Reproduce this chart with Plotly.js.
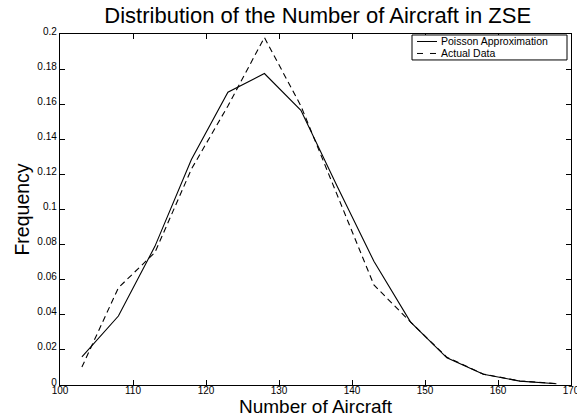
<!DOCTYPE html>
<html>
<head>
<meta charset="utf-8">
<script src="https://cdn.plot.ly/plotly-3.0.1.min.js"></script>
<style>html,body{margin:0;padding:0;background:#fff;}#chart{width:577px;height:419px;}</style>
</head>
<body>
<div id="chart"></div>
<script>
const aircraft = [103, 108, 113, 118, 123, 128, 133, 138, 143, 148, 153, 158, 163, 168];
const poisson = [0.016, 0.0393, 0.079, 0.1285, 0.1668, 0.1775, 0.1565, 0.113, 0.0705, 0.036, 0.0155, 0.0061, 0.0022, 0.0007];
const actual = [0.0102, 0.0554, 0.0755, 0.123, 0.159, 0.198, 0.159, 0.108, 0.057, 0.036, 0.0158, 0.0062, 0.0023, 0.0008];
const seriesNames = ['Poisson Approximation', 'Actual Data'];
const xTicks = [100, 110, 120, 130, 140, 150, 160, 170];
const yTicks = [0, 0.02, 0.04, 0.06, 0.08, 0.1, 0.12, 0.14, 0.16, 0.18, 0.2];

const font = 'Liberation Sans, Arial, Helvetica, sans-serif';
const W = 577, H = 419;
const M = {l: 60, r: 6, t: 34, b: 33.5};
const pw = W - M.l - M.r, ph = H - M.t - M.b;
// pixel -> paper helpers for the in-plot legend box and x title
const px = v => (v - M.l) / pw;
const py = v => (H - M.b - v) / ph;

const dashStyle = '6px,4px';
const traces = [
  {x: aircraft, y: poisson, type: 'scatter', mode: 'lines', name: seriesNames[0],
   line: {color: '#000', width: 1.1}, showlegend: false},
  {x: aircraft, y: actual, type: 'scatter', mode: 'lines', name: seriesNames[1],
   line: {color: '#000', width: 1.1, dash: dashStyle}, showlegend: false}
];
const axisCommon = {
  showgrid: false, zeroline: false, showline: true, linecolor: '#000', linewidth: 1.2,
  mirror: 'allticks', ticks: 'inside', ticklen: 5, tickcolor: '#000', tickwidth: 1,
  tickfont: {family: font, size: 10, color: '#000'}
};
const rows = [41.5, 53.5];
const legendShapes = [
  {type: 'rect', xref: 'paper', yref: 'paper', x0: px(412), x1: px(567), y0: py(35), y1: py(60),
   line: {color: '#000', width: 1}, fillcolor: '#fff', layer: 'above'},
  {type: 'line', xref: 'paper', yref: 'paper', x0: px(417), x1: px(437), y0: py(rows[0]), y1: py(rows[0]),
   line: {color: '#000', width: 1}},
  {type: 'line', xref: 'paper', yref: 'paper', x0: px(417), x1: px(437), y0: py(rows[1]), y1: py(rows[1]),
   line: {color: '#000', width: 1, dash: '6px,7px'}}
];
const legendText = seriesNames.map((n, i) => ({
  text: n, xref: 'paper', yref: 'paper', x: px(440), y: py(rows[i]), xanchor: 'left', yanchor: 'middle',
  showarrow: false, font: {family: font, size: 10.5, color: '#000'}, borderpad: 0
}));
const xTitle = {
  text: 'Number of Aircraft', xref: 'paper', yref: 'paper', x: 0.5, y: py(H), xanchor: 'center', yanchor: 'bottom',
  showarrow: false, font: {family: font, size: 19, color: '#000'}, borderpad: 0
};
const layout = {
  width: W, height: H,
  margin: M,
  paper_bgcolor: '#fff', plot_bgcolor: '#fff',
  font: {family: font, color: '#000'},
  title: {text: 'Distribution of the Number of Aircraft in ZSE', font: {family: font, size: 22, color: '#000'},
          x: 0.5506, xanchor: 'center', y: 0.983, yanchor: 'top'},
  xaxis: Object.assign({}, axisCommon, {range: [100, 170], tickvals: xTicks, ticklabeloverflow: 'allow',
          ticklabelstandoff: -4}),
  yaxis: Object.assign({}, axisCommon, {range: [0, 0.2], tickvals: yTicks, ticklabelshift: -3,
          title: {text: 'Frequency', font: {family: font, size: 19.5, color: '#000'}, standoff: 2}}),
  showlegend: false,
  shapes: legendShapes,
  annotations: legendText.concat([xTitle])
};
Plotly.newPlot('chart', traces, layout, {displayModeBar: false, staticPlot: true});
</script>
</body>
</html>
